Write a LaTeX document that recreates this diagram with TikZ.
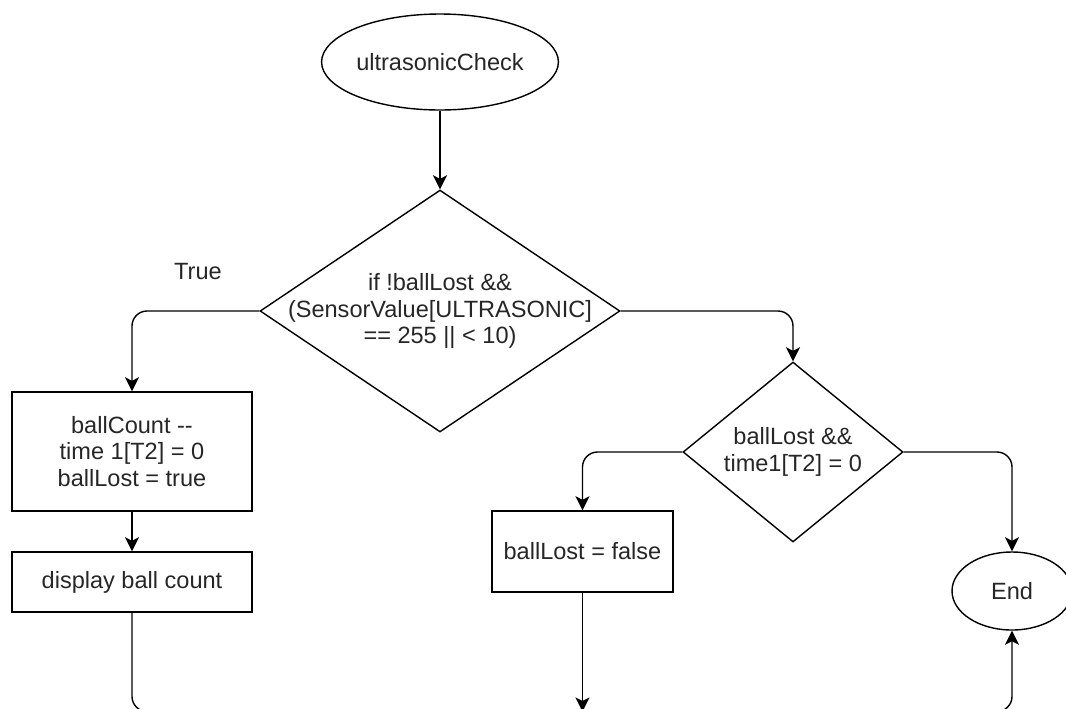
\documentclass[tikz,border=0pt]{standalone}
\usepackage{fontspec}
\setmainfont{Liberation Sans}
\usetikzlibrary{arrows.meta,shapes.geometric}

\begin{document}
\begin{tikzpicture}[x=0.02cm,y=-0.02cm,
    every node/.style={font=\fontsize{13.4}{15.3}\selectfont, align=center, text=black!85},
    term/.style={draw, ellipse, line width=0.8pt, inner sep=0pt},
    decision/.style={draw, diamond, line width=0.8pt, inner sep=0pt},
    process/.style={draw, rectangle, line width=0.8pt, inner sep=0pt},
    flow/.style={line width=0.8pt, rounded corners=0.3cm, -{Stealth[length=8pt,width=8pt,inset=2pt]}}]
      \useasboundingbox (0,0) rectangle (1066,708);
      \clip (0,0) rectangle (1066,708);
      \node[term, minimum width=4.68cm, minimum height=1.92cm] (start) at (440,62) {ultrasonicCheck};
      \node[decision, minimum width=7.2cm, minimum height=4.84cm, label={center:{if !ballLost \&\&\\(SensorValue[ULTRASONIC]\\== 255 || < 10)}}] (check) at (440,311) {};
      \node (truelbl) at (198,272) {True};
      \node[process, minimum width=4.8cm, minimum height=2.38cm] (lost) at (132,451.5) {ballCount -{}-\\time 1[T2] = 0\\ballLost = true};
      \node[process, minimum width=4.8cm, minimum height=1.2cm] (show) at (132,582) {display ball count};
      \node[decision, minimum width=4.4cm, minimum height=3.6cm, label={center:{ballLost \&\&\\time1[T2] = 0}}] (reset) at (793,452) {};
      \node[process, minimum width=3.62cm, minimum height=1.62cm] (found) at (582.5,551.5) {ballLost = false};
      \node[term, minimum width=2.4cm, minimum height=1.56cm] (end) at (1012,591) {End};
      \coordinate (join) at (582.5,711.5);
      \draw[flow] (start) -- (check);
      \draw[flow] (check.west) -| (lost.north);
      \draw[flow] (lost) -- (show);
      \draw[flow] (check.east) -| (reset.north);
      \draw[flow] (reset.west) -| (found.north);
      \draw[flow] (reset.east) -| (end.north);
      \draw[flow] (found) -- (join);
      \draw[flow] (show.south) |- (join) -| (end.south);
%      \draw[flow] (show.south) -- (join);
    \end{tikzpicture}
\end{document}
